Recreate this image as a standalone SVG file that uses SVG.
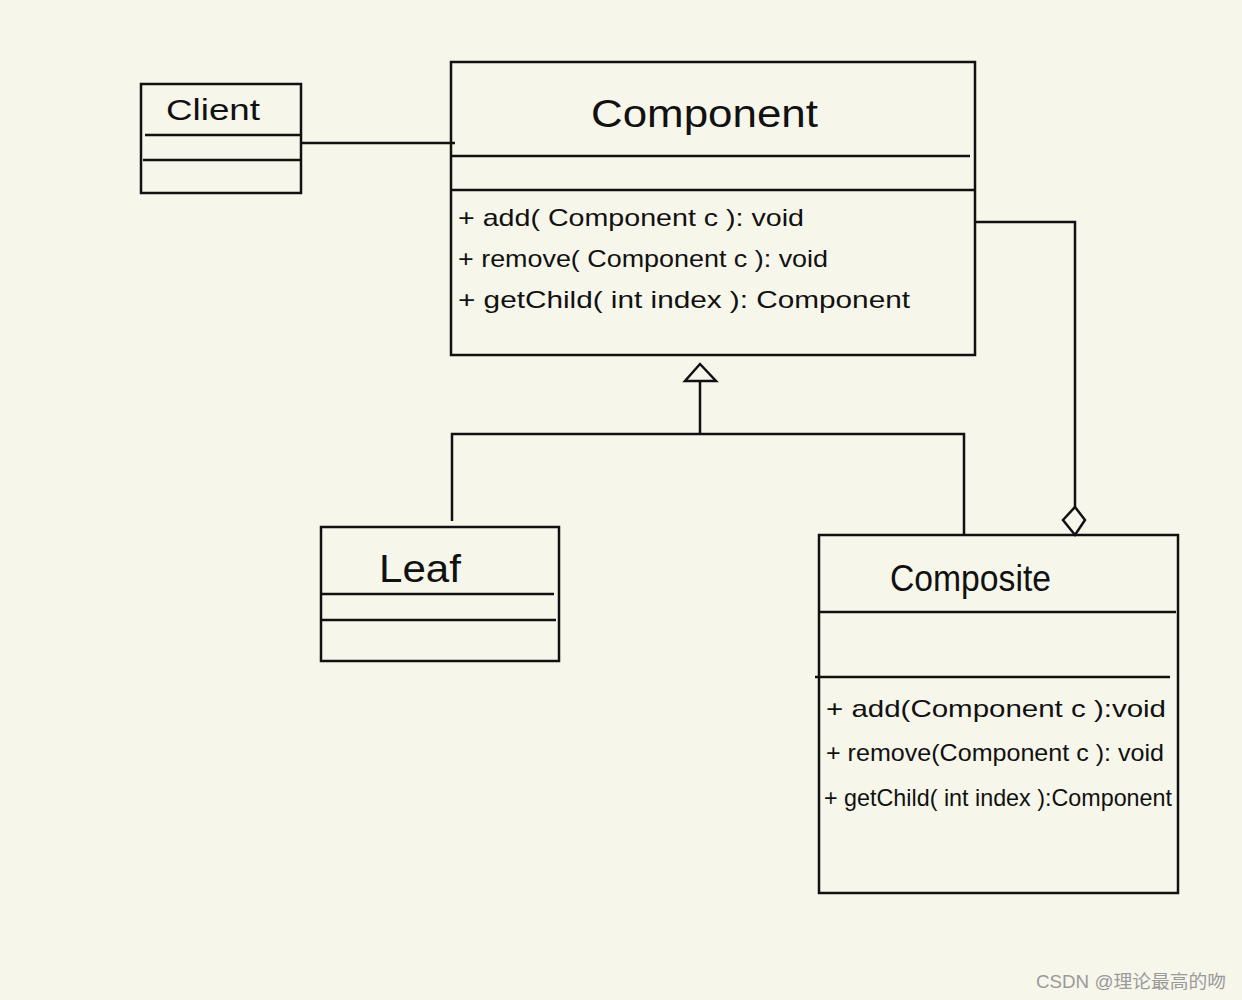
<svg xmlns="http://www.w3.org/2000/svg" width="1242" height="1000" viewBox="0 0 1242 1000">
<style>
.box{fill:none;stroke:#111;stroke-width:2.5}
.ln{fill:none;stroke:#111;stroke-width:2.5}
.t{font-family:"Liberation Sans",Arial,sans-serif;fill:#111}
.title{font-size:38px}
.m{font-size:24px}
.wm{font-family:"Liberation Sans","Noto Sans CJK SC",sans-serif;font-size:18px;fill:#9a9a9a}
</style>
<rect width="1242" height="1000" fill="#f7f6eb"/>
<g id="connectors">
<path class="ln" d="M301,143 H455"/>
<path class="ln" d="M700,381 V434 M452,521 V434 H964 V535"/>
<polygon points="700,364 716,381 685,381" fill="#f7f6eb" stroke="#111" stroke-width="2.5"/>
<path class="ln" d="M975,222 H1075 V507"/>
<polygon points="1075,507 1085,520 1075,535 1063,520" fill="#f7f6eb" stroke="#111" stroke-width="2.5"/>
</g>
<g id="client">
<rect class="box" x="141" y="84" width="160" height="109"/>
<path class="ln" d="M145,135 H300 M143,160 H300"/>
<text class="t" x="166" y="120" font-size="30" textLength="94" lengthAdjust="spacingAndGlyphs">Client</text>
</g>
<g id="component">
<rect class="box" x="451" y="62" width="524" height="293"/>
<path class="ln" d="M452,156 H970 M451,190 H975"/>
<text class="t title" x="591" y="127" textLength="227" lengthAdjust="spacingAndGlyphs">Component</text>
<text class="t m" x="458" y="226" textLength="346" lengthAdjust="spacingAndGlyphs">+ add( Component   c ): void</text>
<text class="t m" x="458" y="267" textLength="370" lengthAdjust="spacingAndGlyphs">+ remove( Component   c ): void</text>
<text class="t m" x="458" y="308" textLength="452" lengthAdjust="spacingAndGlyphs">+ getChild( int  index ): Component</text>
</g>
<g id="leaf">
<rect class="box" x="321" y="527" width="238" height="134"/>
<path class="ln" d="M321,594 H554 M320,620 H556"/>
<text class="t title" x="379" y="582" textLength="82" lengthAdjust="spacingAndGlyphs">Leaf</text>
</g>
<g id="composite">
<rect class="box" x="819" y="535" width="359" height="358"/>
<path class="ln" d="M818,612 H1176 M815,677 H1170"/>
<text class="t" x="890" y="591" font-size="36" textLength="161" lengthAdjust="spacingAndGlyphs">Composite</text>
<text class="t m" x="826" y="717" textLength="340" lengthAdjust="spacingAndGlyphs">+ add(Component  c ):void</text>
<text class="t m" x="826" y="761" textLength="338" lengthAdjust="spacingAndGlyphs">+ remove(Component   c ): void</text>
<text class="t m" x="824" y="806" textLength="348" lengthAdjust="spacingAndGlyphs">+ getChild( int  index ):Component</text>
</g>
<text class="wm" x="1036" y="988" textLength="190" lengthAdjust="spacingAndGlyphs">CSDN @理论最高的吻</text>
</svg>
